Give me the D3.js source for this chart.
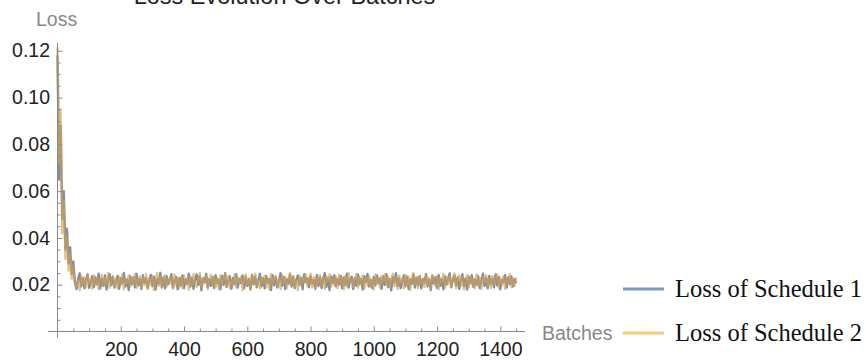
<!DOCTYPE html>
<html><head><meta charset="utf-8">
<script src="https://cdn.jsdelivr.net/npm/d3@7"></script>
<style>
html,body{margin:0;padding:0;background:#fff;}
svg{display:block;}
</style></head>
<body>
<svg id="chart" width="866" height="360"></svg>
<script>
// ---- data ----
const title = "Loss Evolution Over Batches";
const xLabel = "Batches";
const yLabel = "Loss";
const seriesNames = ["Loss of Schedule 1", "Loss of Schedule 2"];
const batchStep = 5; // one sample every 5 batches, batch 0 .. 1450
const xTickValues = [200, 400, 600, 800, 1000, 1200, 1400];
const yTickValues = [0.02, 0.04, 0.06, 0.08, 0.10, 0.12];

const lossSchedule1 = [
0.1180,0.0650,0.0880,0.0480,0.0600,0.0350,0.0440,0.0290,0.0360,0.0245,0.0300,0.0215,
0.0181,0.0224,0.0249,0.0193,0.0228,0.0185,
0.0221,0.0244,0.0186,0.0211,0.0237,0.0190,0.0231,0.0202,0.0247,0.0184,
0.0225,0.0195,0.0240,0.0179,0.0220,0.0245,0.0198,0.0233,0.0188,0.0216,
0.0238,0.0182,0.0228,0.0206,0.0250,0.0192,0.0223,0.0177,0.0236,0.0201,
0.0232,0.0189,0.0246,0.0197,0.0224,0.0181,0.0241,0.0208,0.0227,0.0186,
0.0219,0.0242,0.0194,0.0234,0.0179,0.0225,0.0205,0.0251,0.0190,0.0231,
0.0184,0.0237,0.0201,0.0221,0.0245,0.0188,0.0215,0.0233,0.0180,0.0228,
0.0197,0.0240,0.0185,0.0223,0.0203,0.0247,0.0192,0.0229,0.0182,0.0220,
0.0244,0.0199,0.0236,0.0176,0.0227,0.0211,0.0246,0.0189,0.0224,0.0195,
0.0233,0.0186,0.0241,0.0206,0.0221,0.0180,0.0238,0.0198,0.0249,0.0190,
0.0218,0.0236,0.0182,0.0229,0.0202,0.0245,0.0188,0.0225,0.0207,0.0240,
0.0185,0.0232,0.0194,0.0223,0.0179,0.0242,0.0201,0.0234,0.0189,0.0220,
0.0246,0.0193,0.0228,0.0184,0.0237,0.0208,0.0225,0.0177,0.0241,0.0197,
0.0231,0.0188,0.0216,0.0249,0.0195,0.0233,0.0181,0.0224,0.0203,0.0244,
0.0192,0.0234,0.0185,0.0221,0.0240,0.0199,0.0229,0.0180,0.0245,0.0210,
0.0227,0.0189,0.0237,0.0205,0.0220,0.0182,0.0242,0.0194,0.0232,0.0186,
0.0223,0.0250,0.0190,0.0228,0.0177,0.0236,0.0207,0.0241,0.0193,0.0225,
0.0201,0.0238,0.0184,0.0231,0.0198,0.0247,0.0188,0.0219,0.0234,0.0181,
0.0229,0.0195,0.0244,0.0202,0.0224,0.0179,0.0237,0.0212,0.0246,0.0192,
0.0221,0.0186,0.0233,0.0197,0.0240,0.0206,0.0227,0.0182,0.0236,0.0199,
0.0245,0.0190,0.0225,0.0176,0.0232,0.0210,0.0249,0.0194,0.0228,0.0185,
0.0215,0.0240,0.0193,0.0234,0.0181,0.0223,0.0203,0.0244,0.0188,0.0231,
0.0198,0.0237,0.0184,0.0225,0.0208,0.0246,0.0192,0.0221,0.0177,0.0238,
0.0205,0.0232,0.0186,0.0242,0.0195,0.0224,0.0180,0.0236,0.0201,0.0228,
0.0249,0.0189,0.0220,0.0240,0.0197,0.0231,0.0182,0.0218,0.0245,0.0194,
0.0227,0.0179,0.0234,0.0207,0.0241,0.0190,0.0223,0.0199,0.0237,0.0185,
0.0219,0.0247,0.0194,0.0229,0.0184,0.0238,0.0203,0.0225,0.0189,0.0244,
0.0197,0.0233,0.0180,0.0221,0.0211,0.0241,0.0188,0.0231,0.0202,0.0236,
0.0192,0.0224,0.0207
];

const lossSchedule2 = [
0.1215,0.0720,0.0950,0.0420,0.0560,0.0310,0.0400,0.0260,0.0330,0.0225,0.0280,0.0200,
0.0192,0.0215,0.0177,0.0238,0.0201,0.0231,
0.0188,0.0246,0.0206,0.0223,0.0182,0.0240,0.0198,0.0228,0.0179,0.0220,
0.0242,0.0194,0.0232,0.0203,0.0249,0.0186,0.0221,0.0237,0.0190,0.0227,
0.0184,0.0234,0.0199,0.0244,0.0180,0.0224,0.0208,0.0241,0.0193,0.0229,
0.0205,0.0247,0.0185,0.0219,0.0236,0.0189,0.0231,0.0197,0.0245,0.0181,
0.0227,0.0201,0.0238,0.0177,0.0221,0.0250,0.0194,0.0233,0.0186,0.0218,
0.0241,0.0192,0.0224,0.0206,0.0234,0.0182,0.0244,0.0199,0.0228,0.0188,
0.0232,0.0184,0.0240,0.0210,0.0225,0.0179,0.0237,0.0195,0.0246,0.0202,
0.0190,0.0223,0.0250,0.0186,0.0229,0.0207,0.0236,0.0181,0.0219,0.0242,
0.0198,0.0233,0.0189,0.0227,0.0180,0.0241,0.0203,0.0221,0.0249,0.0193,
0.0238,0.0185,0.0220,0.0201,0.0245,0.0188,0.0231,0.0211,0.0234,0.0177,
0.0224,0.0244,0.0197,0.0228,0.0182,0.0237,0.0202,0.0247,0.0192,0.0216,
0.0184,0.0232,0.0206,0.0240,0.0189,0.0223,0.0179,0.0246,0.0199,0.0229,
0.0237,0.0194,0.0225,0.0181,0.0242,0.0208,0.0233,0.0186,0.0221,0.0250,
0.0201,0.0236,0.0190,0.0219,0.0176,0.0238,0.0198,0.0231,0.0211,0.0244,
0.0193,0.0224,0.0247,0.0188,0.0233,0.0184,0.0227,0.0205,0.0241,0.0195,
0.0231,0.0181,0.0237,0.0214,0.0245,0.0192,0.0223,0.0199,0.0234,0.0185,
0.0242,0.0202,0.0228,0.0180,0.0238,0.0194,0.0249,0.0208,0.0220,0.0189,
0.0225,0.0246,0.0188,0.0232,0.0203,0.0240,0.0182,0.0229,0.0197,0.0236,
0.0192,0.0221,0.0179,0.0244,0.0206,0.0228,0.0185,0.0237,0.0212,0.0245,
0.0199,0.0233,0.0189,0.0224,0.0247,0.0193,0.0231,0.0181,0.0240,0.0207,
0.0227,0.0184,0.0242,0.0197,0.0234,0.0177,0.0220,0.0250,0.0201,0.0232,
0.0186,0.0238,0.0205,0.0223,0.0190,0.0245,0.0198,0.0229,0.0182,0.0241,
0.0219,0.0195,0.0236,0.0180,0.0228,0.0210,0.0246,0.0188,0.0233,0.0202,
0.0237,0.0192,0.0225,0.0249,0.0185,0.0221,0.0240,0.0194,0.0231,0.0179,
0.0208,0.0242,0.0189,0.0234,0.0201,0.0224,0.0184,0.0245,0.0197,0.0228,
0.0181,0.0232,0.0211,0.0241,0.0193,0.0227,0.0186,0.0238,0.0203,0.0221,
0.0244,0.0188,0.0229,0.0199,0.0236,0.0182,0.0223,0.0206,0.0246,0.0190,
0.0225,0.0195,0.0232
];

const seriesColors = ["#7a88a0", "#d3a24e"];
const legendColors = ["#7f9cc8", "#f3c97c"];

// ---- chart ----
const svg = d3.select("#chart");
const x = d3.scaleLinear().domain([0, 1478]).range([57.5, 525]);
const y = d3.scaleLinear().domain([0, 0.1233]).range([331.5, 43]);

const axisColor = "#8a8a8a";
const labelFont = 19.5;
const sans = "'Liberation Sans', Arial, sans-serif";
const serif = "'Liberation Serif', 'Times New Roman', serif";

// data lines
const line = d3.line().x((d, i) => x(i * batchStep)).y(d => y(d));
const lineG = svg.append("g");
[lossSchedule1, lossSchedule2].forEach((s, k) => {
  lineG.append("path")
    .datum(s)
    .attr("d", line)
    .attr("fill", "none")
    .attr("stroke", seriesColors[k])
    .attr("stroke-width", 2.3)
    .attr("stroke-opacity", k === 0 ? 0.95 : 0.65)
    .attr("stroke-linejoin", "round");
});

// x axis
const xMinor = d3.range(50, 1451, 50).filter(v => v % 200 !== 0);
const gx = svg.append("g").attr("transform", `translate(0,${y(0)})`);
gx.append("line").attr("x1", x(-30)).attr("x2", x(1478)).attr("stroke", axisColor).attr("stroke-width", 1);
gx.append("g").call(d3.axisBottom(x).tickValues(xMinor).tickSize(-3).tickFormat(""))
  .call(g => g.select(".domain").remove())
  .call(g => g.selectAll("line").attr("stroke", axisColor));
gx.append("g").call(d3.axisBottom(x).tickValues(xTickValues).tickSize(-5).tickPadding(11).tickFormat(d3.format("d")))
  .call(g => g.select(".domain").remove())
  .call(g => g.selectAll("line").attr("stroke", axisColor))
  .call(g => g.selectAll("text").attr("font-size", labelFont).attr("fill", "#222").style("font-family", sans));

// y axis
const yMinor = d3.range(1, 25).map(v => v * 0.005).filter((v, i) => (i + 1) % 4 !== 0);
const gy = svg.append("g").attr("transform", `translate(${x(0)},0)`);
gy.append("line").attr("y1", y(-0.0028)).attr("y2", y(0.1233)).attr("stroke", axisColor).attr("stroke-width", 1);
gy.append("g").call(d3.axisLeft(y).tickValues(yMinor).tickSize(-3).tickFormat(""))
  .call(g => g.select(".domain").remove())
  .call(g => g.selectAll("line").attr("stroke", axisColor));
gy.append("g").call(d3.axisLeft(y).tickValues(yTickValues).tickSize(-5).tickPadding(7.5).tickFormat(d3.format(".2f")))
  .call(g => g.select(".domain").remove())
  .call(g => g.selectAll("line").attr("stroke", axisColor))
  .call(g => g.selectAll("text").attr("font-size", labelFont).attr("fill", "#222").style("font-family", sans));

// axis labels
svg.append("text").attr("x", 36).attr("y", 25.5).attr("font-size", labelFont).attr("fill", "#888").style("font-family", sans).text(yLabel);
svg.append("text").attr("x", 542).attr("y", 340).attr("font-size", labelFont).attr("fill", "#888").style("font-family", sans).text(xLabel);

// title
svg.append("text").attr("x", 284.5).attr("y", 4).attr("text-anchor", "middle").style("font-family", sans)
  .attr("font-size", 23.5).attr("fill", "#222").text(title);

// legend
const legendY = [289, 333];
seriesNames.forEach((name, k) => {
  svg.append("line").attr("x1", 623).attr("x2", 664).attr("y1", legendY[k]).attr("y2", legendY[k])
    .attr("stroke", legendColors[k]).attr("stroke-width", 3);
  svg.append("text").attr("x", 675).attr("y", legendY[k]).attr("dy", "0.33em")
    .style("font-family", serif).attr("font-size", 24.5)
    .attr("fill", "#111").text(name);
});
</script>
</body></html>
